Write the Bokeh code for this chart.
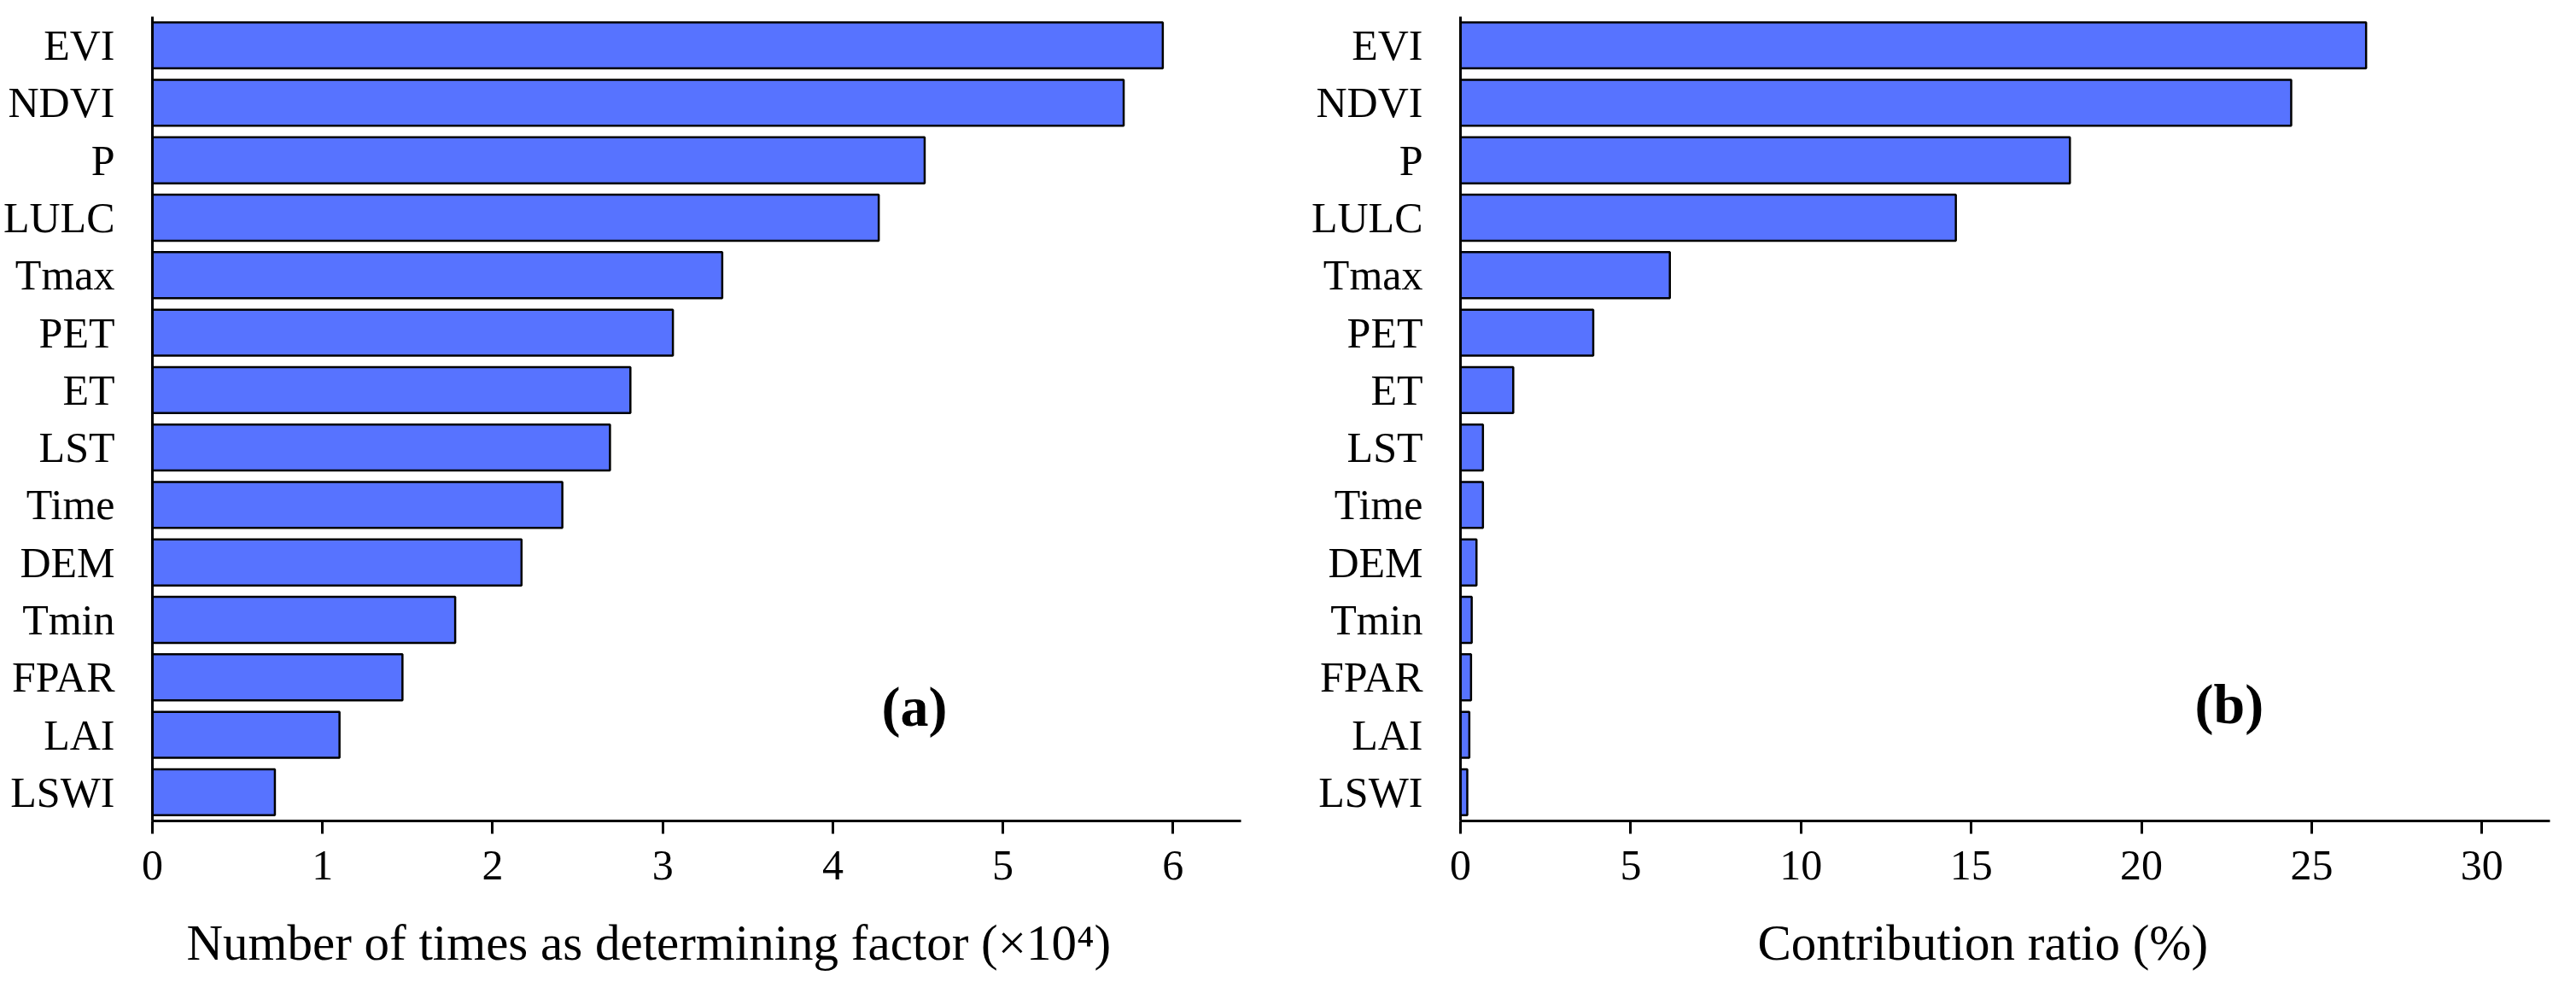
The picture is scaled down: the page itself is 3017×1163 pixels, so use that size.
from bokeh.plotting import figure
from bokeh.models import FactorRange, Range1d, FixedTicker, Label, Title
from bokeh.layouts import row
from bokeh.embed import file_html
from bokeh.resources import INLINE

# ---- data ----
factors = ["EVI", "NDVI", "P", "LULC", "Tmax", "PET", "ET", "LST", "Time",
           "DEM", "Tmin", "FPAR", "LAI", "LSWI"]
times_determining = [5.94, 5.71, 4.54, 4.27, 3.35, 3.06, 2.81, 2.69, 2.41,
                     2.17, 1.78, 1.47, 1.10, 0.72]          # x10^4
contribution_ratio = [26.6, 24.4, 17.9, 14.55, 6.15, 3.9, 1.55, 0.66, 0.66,
                      0.47, 0.33, 0.31, 0.26, 0.2]           # %
ticks_a = [0, 1, 2, 3, 4, 5, 6]
ticks_b = [0, 5, 10, 15, 20, 25, 30]
title_a = "Number of times as determining factor (\u00d710\u2074)"
title_b = "Contribution ratio (%)"

FONT = "Liberation Serif"
BAR = "#5773FF"


def make_panel(values, ticks, xmax, xlabel, label_offset, tag, tag_x, tag_y,
               left, right, top, bottom, fw):
    p = figure(
        frame_width=fw, frame_height=942,
        y_range=FactorRange(factors=list(reversed(factors)), range_padding=0),
        x_range=Range1d(0, xmax),
        output_backend="svg", toolbar_location=None,
        min_border_left=left, min_border_right=right,
        min_border_top=top, min_border_bottom=bottom,
    )
    p.outline_line_color = None
    p.background_fill_color = "white"
    p.border_fill_color = "white"
    p.xgrid.grid_line_color = None
    p.ygrid.grid_line_color = None

    p.hbar(y=factors, right=values, height=0.8, left=0,
           fill_color=BAR, line_color="black", line_width=2.5)

    xa = p.xaxis[0]
    xa.ticker = FixedTicker(ticks=ticks)
    xa.axis_line_width = 3
    xa.axis_line_color = "black"
    xa.major_tick_line_width = 3
    xa.major_tick_out = 15
    xa.major_tick_in = 0
    xa.minor_tick_line_color = None
    xa.major_label_text_font = FONT
    xa.major_label_text_font_size = "50px"
    xa.major_label_text_color = "black"
    xa.major_label_standoff = 20

    ya = p.yaxis[0]
    ya.axis_line_width = 3
    ya.axis_line_color = "black"
    ya.major_tick_line_color = None
    ya.minor_tick_line_color = None
    ya.major_label_text_font = FONT
    ya.major_label_text_font_size = "50px"
    ya.major_label_text_color = "black"
    ya.major_label_standoff = 38

    t = Title(text=xlabel, align="left", offset=label_offset,
              text_font=FONT, text_font_size="59px",
              text_font_style="normal", text_color="black", standoff=72)
    p.add_layout(t, "below")

    p.add_layout(Label(x=tag_x, y=tag_y, text=tag, text_font=FONT,
                       text_font_style="bold", text_font_size="66px",
                       text_align="center", text_baseline="middle",
                       text_color="black"))
    return p


p1 = make_panel(times_determining, ticks_a, 6.4, title_a, 40, "(a)", 4.48, 1.99,
                left=176, right=49, top=16, bottom=150, fw=1275)
p2 = make_panel(contribution_ratio, ticks_b, 32, title_b, 348, "(b)", 22.58, 2.04,
                left=208, right=16, top=19, bottom=150, fw=1276)

layout = row(p1, p2)
open("out.html", "w").write(file_html(layout, INLINE))
